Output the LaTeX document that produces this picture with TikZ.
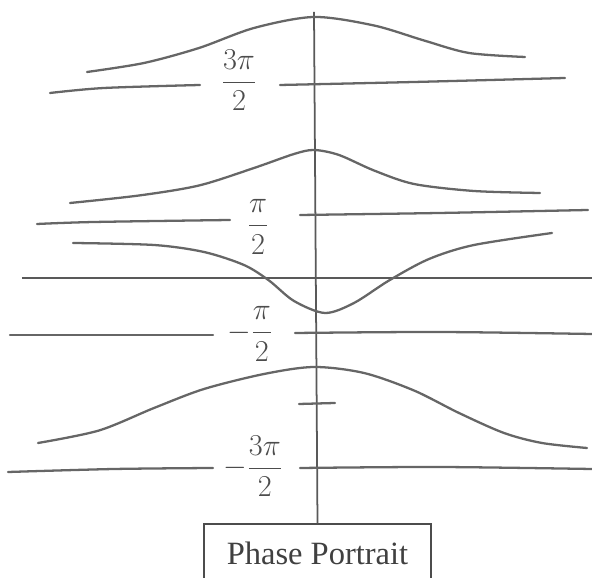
\documentclass[tikz,border=0pt]{standalone}
\usepackage{fontspec}
\setmainfont{Liberation Serif}

\begin{document}
\begin{tikzpicture}[
  axis/.style={draw=black!65,line width=1pt},
  curve/.style={draw=black!60,line width=1.3pt,line cap=round},
  frac/.style={font=\fontsize{16}{18}\selectfont,text=black!70,inner sep=1pt},
  caption/.style={draw=black!70,line width=0.8pt,font=\fontsize{18.5}{20}\selectfont,
    text=black!75,minimum width=4.54cm,minimum height=1.16cm,inner sep=0pt},
]
\useasboundingbox (-6.28,-6.0) rectangle (5.56,5.56);
% axes and caption
\node[caption] (portrait) at (0.07,-5.5) {Phase Portrait};
\coordinate (ytop) at (0,5.32);
\coordinate (xl) at (-5.84,0);
\coordinate (xr) at (5.56,0);
\draw[axis] (ytop) -- (portrait.north);
\draw[axis] (xl) -- (xr);
% level labels
\node[frac] (l3) at (-1.5,3.96) {$\displaystyle\frac{3\pi}{2}$};
\node[frac] (l1) at (-1.12,1.02) {$\displaystyle\frac{\pi}{2}$};
\node[frac] (m1) at (-1.28,-1.12) {$-\displaystyle\frac{\pi}{2}$};
\node[frac] (m3) at (-1.22,-3.76) {$-\displaystyle\frac{3\pi}{2}$};
% separatrix lines
\draw[curve] plot[smooth] coordinates {(-5.28,3.7) (-4.2,3.8) (-2.28,3.86)};
\draw[curve] plot[smooth] coordinates {(-0.68,3.86) (2,3.92) (5.02,4.0)};
\draw[curve] plot[smooth] coordinates {(-5.54,1.08) (-4.4,1.12) (-1.68,1.16)};
\draw[curve] plot[smooth] coordinates {(-0.28,1.26) (2.5,1.3) (5.48,1.36)};
\draw[curve] plot[smooth] coordinates {(-6.08,-1.14) (-4,-1.14) (-2.02,-1.14)};
\draw[curve] plot[smooth] coordinates {(-0.38,-1.1) (2.5,-1.08) (5.56,-1.12)};
\draw[curve] plot[smooth] coordinates {(-6.12,-3.88) (-4,-3.82) (-2.02,-3.8)};
\draw[curve] plot[smooth] coordinates {(-0.28,-3.8) (2.5,-3.78) (5.56,-3.82)};
\draw[curve] (-0.3,-2.52) -- (0.42,-2.5);
% trajectories
\draw[curve] plot[smooth] coordinates {(-4.54,4.12) (-3.4,4.3) (-2.3,4.6) (-1.2,5.0)
  (0,5.22) (1.2,5.05) (2.2,4.75) (3.1,4.5) (4.22,4.42)};
\draw[curve] plot[smooth] coordinates {(-4.88,1.5) (-3.5,1.65) (-2.3,1.85) (-1.2,2.2)
  (-0.4,2.48) (0,2.56) (0.5,2.46) (1.2,2.15) (2.0,1.88) (3.2,1.74) (4.52,1.7)};
\draw[curve] plot[smooth] coordinates {(-4.82,0.7) (-3.2,0.66) (-2.2,0.52) (-1.4,0.26)
  (-0.9,-0.05) (-0.4,-0.46) (0.22,-0.7) (0.8,-0.5) (1.5,-0.05) (2.3,0.38) (3.2,0.66)
  (4.76,0.9)};
\draw[curve] plot[smooth] coordinates {(-5.52,-3.3) (-4.3,-3.05) (-3.2,-2.6) (-2.2,-2.22)
  (-1,-1.92) (0,-1.78) (1,-1.9) (2.0,-2.25) (2.9,-2.7) (3.8,-3.1) (4.56,-3.3) (5.46,-3.4)};
\end{tikzpicture}
\end{document}
